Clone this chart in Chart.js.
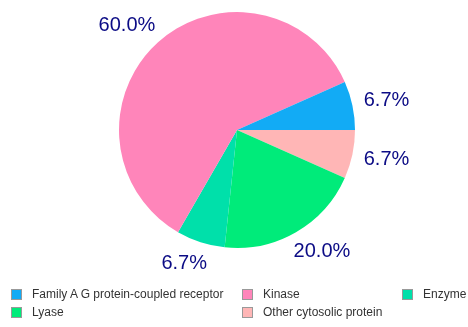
<!DOCTYPE html>
<html>
<head>
<meta charset="utf-8">
<script src="https://cdn.jsdelivr.net/npm/chart.js@4/dist/chart.umd.min.js"></script>
<style>
  html, body { margin: 0; padding: 0; background: #fff; }
  #wrap { position: relative; width: 468px; height: 327px; }
  #pie { position: absolute; left: 0; top: 0; }
  .legend { position: absolute; left: 0; top: 0; font-family: "Liberation Sans", Arial, sans-serif; font-size: 12px; color: #333; }
  .legend-item { position: absolute; display: flex; align-items: center; white-space: nowrap; height: 14px; }
  .legend-box { width: 9px; height: 9px; border: 1px solid #999; margin-right: 10px; }
</style>
</head>
<body>
<div id="wrap">
  <canvas id="pie" width="468" height="327"></canvas>
  <div class="legend" id="legend"></div>
</div>
<script>
const categories = ['Family A G protein-coupled receptor', 'Kinase', 'Enzyme', 'Lyase', 'Other cytosolic protein'];
const counts = [1, 9, 1, 3, 1];
const colors = ['#12abf5', '#ff85ba', '#00e0aa', '#00eb7a', '#ffb6b6'];

// legend slots (left, top) in a 3-column grid
const legendSlots = [[11, 287], [242, 287], [402, 287], [11, 305], [242, 305]];

const total = counts.reduce((a, b) => a + b, 0);

// pie runs counter-clockwise from 3 o'clock in the original, so feed it reversed
const order = counts.map((_, i) => i).reverse();

const outsideLabels = {
  id: 'outsideLabels',
  afterDatasetsDraw(chart) {
    const ctx = chart.ctx;
    const meta = chart.getDatasetMeta(0);
    ctx.save();
    ctx.font = '20px "Liberation Sans", Arial, sans-serif';
    ctx.fillStyle = '#0b0b85';
    ctx.textBaseline = 'middle';
    ctx.textAlign = 'center';
    meta.data.forEach((arc, i) => {
      const a = (arc.startAngle + arc.endAngle) / 2;
      const r = arc.outerRadius * 1.1;
      const c = Math.cos(a), s = Math.sin(a);
      const v = chart.data.datasets[0].data[i];
      const txt = (v / total * 100).toFixed(1) + '%';
      const w = ctx.measureText(txt).width;
      const x = arc.x + c * r + Math.sign(c) * Math.sqrt(Math.abs(c)) * w / 2;
      const y = arc.y + s * r + s * 11;
      ctx.fillText(txt, x, y);
    });
    ctx.restore();
  }
};

new Chart(document.getElementById('pie'), {
  type: 'pie',
  data: {
    labels: order.map(i => categories[i]),
    datasets: [{
      data: order.map(i => counts[i]),
      backgroundColor: order.map(i => colors[i]),
      borderWidth: 0
    }]
  },
  options: {
    responsive: false,
    animation: false,
    rotation: 90,
    layout: { padding: { top: 12, bottom: 79, left: 6, right: 0 } },
    plugins: {
      legend: { display: false },
      tooltip: { enabled: false }
    }
  },
  plugins: [outsideLabels]
});

const legend = document.getElementById('legend');
categories.forEach((name, i) => {
  const item = document.createElement('div');
  item.className = 'legend-item';
  item.style.left = legendSlots[i][0] + 'px';
  item.style.top = legendSlots[i][1] + 'px';
  const box = document.createElement('div');
  box.className = 'legend-box';
  box.style.backgroundColor = colors[i];
  const txt = document.createElement('span');
  txt.textContent = name;
  item.appendChild(box);
  item.appendChild(txt);
  legend.appendChild(item);
});
</script>
</body>
</html>
